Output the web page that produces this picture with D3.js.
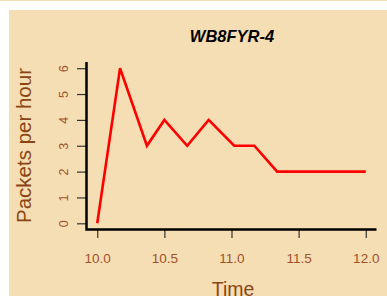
<!DOCTYPE html>
<html>
<head>
<meta charset="utf-8">
<script src="https://cdn.jsdelivr.net/npm/d3@7"></script>
<style>
  html, body { margin: 0; padding: 0; background: #ffffff; }
  svg { display: block; }
</style>
</head>
<body>
<div id="chart"></div>
<script>
// packets heard per hour for one station
var times = [10.0, 10.17, 10.37, 10.5, 10.67, 10.83, 11.02, 11.17, 11.34, 12.0];
var packets = [0, 6, 3, 4, 3, 4, 3, 3, 2, 2];
var xTicks = [10.0, 10.5, 11.0, 11.5, 12.0];
var yTicks = [0, 1, 2, 3, 4, 5, 6];
var title = "WB8FYR-4";

var width = 387, height = 296;
var panelBg = "#f5deb3";

var svg = d3.select("#chart")
    .append("svg")
    .attr("width", width)
    .attr("height", height);

// thin strip on top, white margin, then the panel
svg.append("rect").attr("x", 0).attr("y", 0).attr("width", width).attr("height", 1).attr("fill", panelBg);
svg.append("rect").attr("x", 9).attr("y", 10).attr("width", width - 9).attr("height", height - 10).attr("fill", panelBg);

// R style 4% padding around the data range
var xScale = d3.scaleLinear().domain([9.92, 12.08]).range([86.5, 376.5]);
var yScale = d3.scaleLinear().domain([-0.24, 6.24]).range([229.5, 62]);

var xAxis = d3.axisBottom(xScale).tickValues(xTicks).tickFormat(d3.format(".1f")).tickSize(8).tickPadding(15).tickSizeOuter(0);
var gx = svg.append("g").attr("transform", "translate(0,230)").call(xAxis);
gx.select(".domain").remove();
gx.selectAll(".tick line").attr("stroke", "#333").attr("stroke-width", 1.2);
gx.selectAll(".tick text")
    .attr("fill", "#a0522d")
    .attr("font-family", "Liberation Sans, Arial, sans-serif")
    .attr("font-size", 13.5);

var yAxis = d3.axisLeft(yScale).tickValues(yTicks).tickFormat(d3.format("d")).tickSize(9).tickPadding(0).tickSizeOuter(0);
var gy = svg.append("g").attr("transform", "translate(86,0)").call(yAxis);
gy.select(".domain").remove();
gy.selectAll(".tick line").attr("stroke", "#333").attr("stroke-width", 1.2);
gy.selectAll(".tick text")
    .attr("fill", "#a0522d")
    .attr("font-family", "Liberation Sans, Arial, sans-serif")
    .attr("font-size", 12.5)
    .attr("text-anchor", "middle")
    .attr("dy", null)
    .attr("x", null)
    .attr("transform", "translate(-22,0) rotate(-90)")
    .attr("dominant-baseline", "central");

// L shaped frame
svg.append("path")
    .attr("d", "M" + xScale.range()[0] + "," + yScale.range()[1] + "V" + yScale.range()[0] + "H" + xScale.range()[1])
    .attr("fill", "none")
    .attr("stroke", "#000")
    .attr("stroke-width", 2.5);

var line = d3.line()
    .x(function(d, i) { return xScale(times[i]); })
    .y(function(d) { return yScale(d); });

svg.append("path")
    .datum(packets)
    .attr("d", line)
    .attr("fill", "none")
    .attr("stroke", "#ff0000")
    .attr("stroke-width", 2.6)
    .attr("stroke-linejoin", "miter");

svg.append("text")
    .attr("x", 232)
    .attr("y", 41.5)
    .attr("text-anchor", "middle")
    .attr("font-family", "Liberation Sans, Arial, sans-serif")
    .attr("font-weight", "bold")
    .attr("font-style", "italic")
    .attr("font-size", 16.5)
    .attr("fill", "#000")
    .text(title);

svg.append("text")
    .attr("x", 233)
    .attr("y", 295.5)
    .attr("text-anchor", "middle")
    .attr("font-family", "Liberation Sans, Arial, sans-serif")
    .attr("font-size", 19.5)
    .attr("fill", "#8b4513")
    .text("Time");

svg.append("text")
    .attr("transform", "translate(31,145.5) rotate(-90)")
    .attr("text-anchor", "middle")
    .attr("font-family", "Liberation Sans, Arial, sans-serif")
    .attr("font-size", 20.5)
    .attr("fill", "#8b4513")
    .text("Packets per hour");
</script>
</body>
</html>
